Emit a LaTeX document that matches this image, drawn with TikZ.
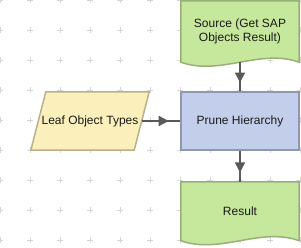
\documentclass[tikz,border=0pt]{standalone}
\usepackage{fontspec}
\setmainfont{Liberation Sans}
\usepackage{tikz}
\usetikzlibrary{arrows.meta, calc, decorations.markings}
\usepackage{xcolor}
\definecolor{docgreen}{HTML}{C6E89C}
\definecolor{docedge}{HTML}{98B078}
\definecolor{taskblue}{HTML}{C3CFEA}
\definecolor{taskedge}{HTML}{8F99AD}
\definecolor{inyellow}{HTML}{FBF0BB}
\definecolor{inedge}{HTML}{BBB089}
\definecolor{gridgray}{HTML}{D6D6D6}
\definecolor{flowgray}{HTML}{595959}

\begin{document}
\begin{tikzpicture}[x=1pt, y=1pt,
  txt/.style={font=\fontsize{12}{13.5}\selectfont, align=center, inner sep=0pt, text=black!90},
  docbox/.style={txt, minimum width=118pt, minimum height=61pt},
  taskbox/.style={txt, draw=taskedge, line width=1.5pt, fill=taskblue,
                  minimum width=118pt, minimum height=58pt},
  inbox/.style={txt, minimum width=103pt, minimum height=58pt},
  docline/.style={draw=docedge, line width=1.5pt, fill=docgreen},
  inline/.style={draw=inedge, line width=1.5pt, fill=inyellow},
  flow/.style={flowgray, line width=1.6pt, postaction={decorate},
               decoration={markings, mark=at position 0.7 with {\arrow{Triangle[length=10pt,width=10pt]}}}}
]
  \useasboundingbox (0,0) rectangle (301,-248);

  % grid marks
  \foreach \gx in {0,30,...,300}
    \foreach \gy in {0,30,...,240}
      \draw[gridgray, line width=0.8pt] (\gx-3,-\gy) -- (\gx+3,-\gy) (\gx,-\gy-3) -- (\gx,-\gy+3);

  % nodes
  \node[docbox] (src) at (240,-31.5) {};
  \draw[docline] (src.north west) -- (src.north east) -- (src.south east)
    .. controls ($(src.south east)+(-39,14)$) and ($(src.south west)+(39,-14)$) .. (src.south west) -- cycle;
  \node[txt] at (src) {Source (Get SAP\\Objects Result)};

  \node[taskbox] (prune) at (240,-121) {Prune Hierarchy};

  \node[docbox, minimum height=58.5pt] (res) at (240,-211.25) {};
  \draw[docline] (res.north west) -- (res.north east) -- (res.south east)
    .. controls ($(res.south east)+(-39,14)$) and ($(res.south west)+(39,-14)$) .. (res.south west) -- cycle;
  \node[txt] at (res) {Result};

  \node[inbox] (leaf) at (90,-121) {};
  \draw[inline] ($(leaf.north west)+(7.5,0)$) -- ($(leaf.north east)+(7.5,0)$)
    -- ($(leaf.south east)+(-7.5,0)$) -- ($(leaf.south west)+(-7.5,0)$) -- cycle;
  \node[txt] at (leaf) {Leaf Object Types};

  % connectors
  \draw[flow] (src) -- (prune);
  \draw[flow] (leaf) -- (prune);
  \draw[flow] (prune) -- (res);
\end{tikzpicture}
\end{document}
